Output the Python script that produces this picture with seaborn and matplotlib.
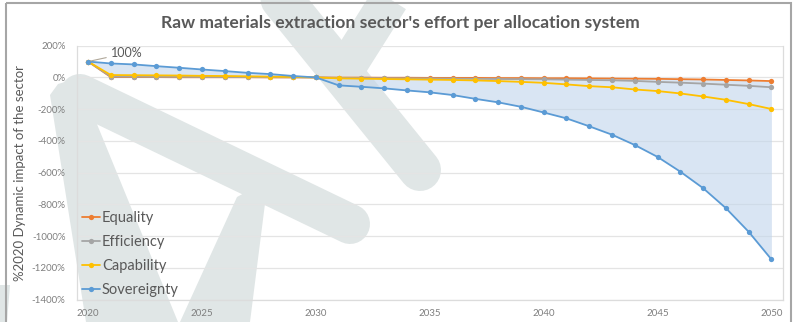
import matplotlib
matplotlib.use("Agg")
import matplotlib.pyplot as plt
from matplotlib.patches import Polygon, Rectangle
from matplotlib.lines import Line2D
from matplotlib.transforms import Affine2D
import seaborn as sns

# --- data -----------------------------------------------------------------
years = list(range(2020, 2051))

equality = [100, 2, 2, 2, 1, 1, 1, 1, 0, 0, 0,
            -1, -1, -2, -2, -3, -3, -3, -4, -4, -5,
            -5, -6, -7, -8, -9, -11, -13, -16, -19, -23]
efficiency = [100, 5, 5, 4, 4, 3, 3, 2, 2, 1, 0,
              -3, -4, -5, -6, -7, -8, -9, -10, -11, -12,
              -14, -16, -18, -22, -28, -33, -39, -46, -53, -62]
capability = [100, 15, 14, 13, 12, 10, 9, 7, 5, 3, 0,
              -6, -8, -10, -12, -14, -16, -19, -23, -28, -34,
              -44, -55, -62, -76, -86, -101, -120, -141, -168, -199]
sovereignty = [100, 88, 82, 71, 61, 50, 40, 29, 21, 9, 0,
               -50, -59, -69, -82, -94, -111, -135, -157, -185, -221,
               -258, -308, -361, -426, -501, -594, -698, -824, -973, -1147]

series_names = ["Equality", "Efficiency", "Capability", "Sovereignty"]
series_values = [equality, efficiency, capability, sovereignty]
series_colors = ["#ED7D31", "#A5A5A5", "#FFC000", "#5B9BD5"]

y_ticks = list(range(200, -1401, -200))
x_ticks = [2020, 2025, 2030, 2035, 2040, 2045, 2050]

title = "Raw materials extraction sector's effort per allocation system"
y_label = "%2020 Dynamic impact of the sector"

# --- figure ---------------------------------------------------------------
W, H = 798, 322
sns.set_style("white")
plt.rcParams["font.family"] = ["Lato", "DejaVu Sans"]

fig = plt.figure(figsize=(W / 100, H / 100), dpi=100)
fig.patch.set_facecolor("white")

# pixel coordinates (origin top-left) -> figure coordinates
px = Affine2D().scale(1 / W, -1 / H).translate(0, 1) + fig.transFigure

# faint background watermark strokes
wm_color = "#e0e6e6"
wm_polys = [
    [(50, 95), (58, 84), (72, 80), (92, 112), (178, 322), (86, 322)],
    [(237, 197), (268, 180), (250, 322), (180, 322)],
    [(0, 285), (10, 285), (7, 322), (0, 322)],
]
for pts in wm_polys:
    fig.add_artist(Polygon(pts, closed=True, transform=px, facecolor=wm_color,
                           edgecolor="none", zorder=-5))
wm_strokes = [
    ((80, 94), (350, 224), 40, "round"),
    ((262, -25), (420, 170), 42, "round"),
    ((405, -25), (345, 70), 38, "butt"),
]
for (x0, y0), (x1, y1), w, cap in wm_strokes:
    fig.add_artist(Line2D([x0, x1], [y0, y1], transform=px, color=wm_color,
                          linewidth=w * 0.72, solid_capstyle=cap, zorder=-5))

# plot area
ax_left, ax_right = 76.7, 782.8
ax_top, ax_bottom = 45.7, 299.5
ax = fig.add_axes([ax_left / W, (H - ax_bottom) / H,
                   (ax_right - ax_left) / W, (ax_bottom - ax_top) / H])
ax.set_facecolor("none")

# shaded band between the extreme scenarios
ax.fill_between(years, sovereignty, equality, color=(193 / 255, 213 / 255, 235 / 255),
                alpha=0.6, linewidth=0, zorder=1)

for name, vals, col in zip(series_names, series_values, series_colors):
    sns.lineplot(x=years, y=vals, ax=ax, color=col, linewidth=1.3, marker="o",
                 markersize=3.8, markeredgewidth=0, label=name, zorder=3)

ax.set_xlim(2019.5, 2050.5)
ax.set_ylim(-1400, 200)
ax.set_yticks(y_ticks)
ax.set_yticklabels([f"{v}%" for v in y_ticks])
ax.set_xticks(x_ticks)
ax.set_xticklabels([str(v) for v in x_ticks])
ax.tick_params(axis="both", length=0, labelsize=7, labelcolor="#7f7f7f")
ax.tick_params(axis="y", pad=8)
ax.tick_params(axis="x", pad=7)
ax.grid(axis="y", color="#e4e4e4", linewidth=0.9)
ax.grid(axis="x", visible=False)
for side in ["left", "right", "bottom"]:
    ax.spines[side].set_visible(True)
    ax.spines[side].set_color("#dcdcdc")
    ax.spines[side].set_linewidth(0.9)
ax.spines["top"].set_visible(False)
ax.set_xlabel("")
ax.set_ylabel("")

# value callout on the first point
ax.annotate(f"{sovereignty[0]}%", xy=(years[0], sovereignty[0]), xytext=(2021.0, 153),
            ha="left", va="center", fontsize=9, color="#595959",
            arrowprops=dict(arrowstyle="-", color="#b0a89a", lw=0.8,
                            shrinkA=1, shrinkB=2))

leg = ax.legend(loc="upper left", bbox_to_anchor=(82 / W, 1 - 211 / H),
                bbox_transform=fig.transFigure, frameon=False, fontsize=10.5,
                borderpad=0, borderaxespad=0, handlelength=1.25,
                handletextpad=0.12, labelspacing=0.68)
for t in leg.get_texts():
    t.set_color("#595959")

fig.text(400 / W, 1 - 23 / H, title, ha="center", va="center", fontsize=12.6,
         fontweight="bold", color="#595959")
fig.text(20 / W, 1 - 173 / H, y_label, ha="center", va="center", rotation=90,
         fontsize=9.5, color="#595959")

# outer chart frame
fig.add_artist(Rectangle((6, 3), 785, 330, transform=px, fill=False,
                         edgecolor="#a6a6a6", linewidth=1.5, zorder=10))

fig.savefig("out.png", dpi=100, facecolor="white")
